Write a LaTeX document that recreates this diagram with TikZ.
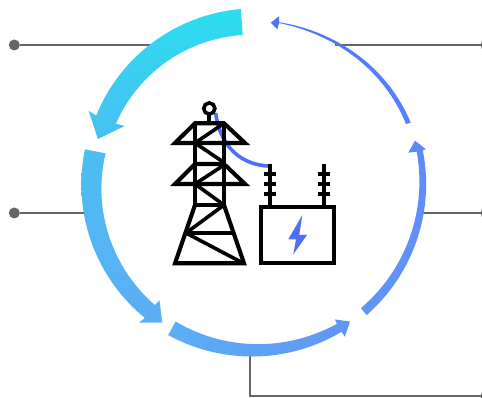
\documentclass[tikz,border=0pt]{standalone}
\definecolor{feedgray}{HTML}{666666}
\definecolor{boltblue}{HTML}{4F6FFB}
\definecolor{ringa}{RGB}{43,221,240}
\definecolor{ringb}{RGB}{74,190,241}
\definecolor{ringc}{RGB}{92,174,246}
\definecolor{ringd}{RGB}{97,149,247}
\definecolor{ringe}{RGB}{92,138,251}
\definecolor{ringf}{RGB}{87,129,251}
\newcommand{\ringband}[7]{\shade[#1]
  plot[domain=#2:#3,samples=40]
    ({253+(#4+(#5-#4)*(\x-#2)/(#3-#2))*cos(\x)},{182-(#4+(#5-#4)*(\x-#2)/(#3-#2))*sin(\x)})
  -- (tipout) -- (tipmid) -- (tipin) --
  plot[domain=#3:#2,samples=40]
    ({253+(#6+(#7-#6)*(\x-#2)/(#3-#2))*cos(\x)},{182-(#6+(#7-#6)*(\x-#2)/(#3-#2))*sin(\x)})
  -- cycle;}
\newcommand{\ringtip}[6]{
  \coordinate (tipout) at ({253+#2*cos(#1)},{182-#2*sin(#1)});
  \coordinate (tipmid) at ({253+#4*cos(#3)},{182-#4*sin(#3)});
  \coordinate (tipin) at ({253+#6*cos(#5)},{182-#6*sin(#5)});}
\tikzset{
  feedline/.style={draw=feedgray,line width=2.6pt},
  pindot/.style={circle,fill=feedgray,inner sep=0pt,outer sep=0pt,minimum size=11pt},
  towerline/.style={draw=black,line width=4.1pt,line join=miter},
  braceline/.style={draw=black,line width=3.6pt,line join=bevel}
}
\begin{document}
\begin{tikzpicture}[x=1pt,y=-1pt]
\useasboundingbox (0,0) rectangle (482,398);
\fill[white] (0,0) rectangle (482,398);
% feed lines
\foreach \name/\x/\y in {pinA/14.3/45, pinB/14.3/213, pinC/486/45, pinD/486/213, pinE/486/396}
  \node[pindot] (\name) at (\x,\y) {};
\foreach \name/\x/\y in {ringA/160/45, ringB/92/213, ringC/335/45, ringD/420/213, ringE/250/350, cornerE/250/396}
  \coordinate (\name) at (\x,\y);
\draw[feedline] (pinA) -- (ringA);
\draw[feedline] (pinB) -- (ringB);
\draw[feedline] (pinC) -- (ringC);
\draw[feedline] (pinD) -- (ringD);
\draw[feedline] (ringE) -- (cornerE) -- (pinE);
% ring
\ringtip{156.6}{179}{164.5}{161}{156.4}{140}
\ringband{top color=ringa,bottom color=ringb}{94}{157}{173.4}{170.3}{147.3}{149}
\ringtip{231}{181}{237.2}{167.4}{231.6}{150.7}
\ringband{top color=ringb,bottom color=ringc}{169}{231.5}{171.2}{173.7}{150.2}{157.4}
\ringtip{300.7}{180}{304.8}{170}{300.8}{160}
\ringband{left color=ringc,right color=ringd}{241}{300.6}{175}{174}{159.5}{164.8}
\ringtip{10.8}{175.8}{14.3}{167.2}{10.7}{158}
\ringband{bottom color=ringd,top color=ringe}{310.5}{370.5}{175}{172.7}{166}{166.5}
\shade[right color=ringf,left color=boltblue]
  (410.7,122.7) .. controls (389,70) and (340,32) .. (279,22.2)
  -- (279,16.3) -- (270.7,22.7) -- (277.3,29.3) -- (279,23)
  .. controls (338,35) and (385,72) .. (406,124) -- cycle;
% wire behind the tower
\draw[boltblue,line width=3.6pt] (215.7,113) .. controls (219,140) and (235,164) .. (268,166);
% tower
\draw[towerline] (209.3,122) -- (209.3,114);
\draw[draw=black,line width=3.6pt] (209.3,108.5) circle (5.6);
\draw[towerline] (195,123.3) -- (224,123.3) -- (245,143) -- (175,143) -- cycle;
\draw[towerline] (195,164) -- (224,164) -- (245,184) -- (175,184) -- cycle;
\draw[towerline] (195,123.3) -- (195,205);
\draw[towerline] (224,123.3) -- (224,205);
\draw[braceline] (224,123.3) -- (195,143) -- (224,162.5);
\draw[braceline] (224,165) -- (195,184) -- (224,205) -- (195,205);
\draw[towerline] (195,205) -- (175,263.3) -- (244,263.3) -- (224,205);
\draw[braceline] (224,205) -- (186,233) -- (241,262);
\draw[braceline] (186,233.3) -- (234,233.3);
% transformer
\draw[towerline] (260.7,206.7) rectangle (334,263.3);
\foreach \x in {270,324}
  {\draw[towerline] (\x,164) -- (\x,206);
   \foreach \y in {174,184,194}
     \draw[towerline] (\x-6.3,\y) -- (\x+6.3,\y);};
\fill[boltblue] (302.3,215) -- (288.3,239.3) -- (296,239.3) -- (293.3,254.3) -- (307,235) -- (299.3,235) -- cycle;
\end{tikzpicture}
\end{document}
